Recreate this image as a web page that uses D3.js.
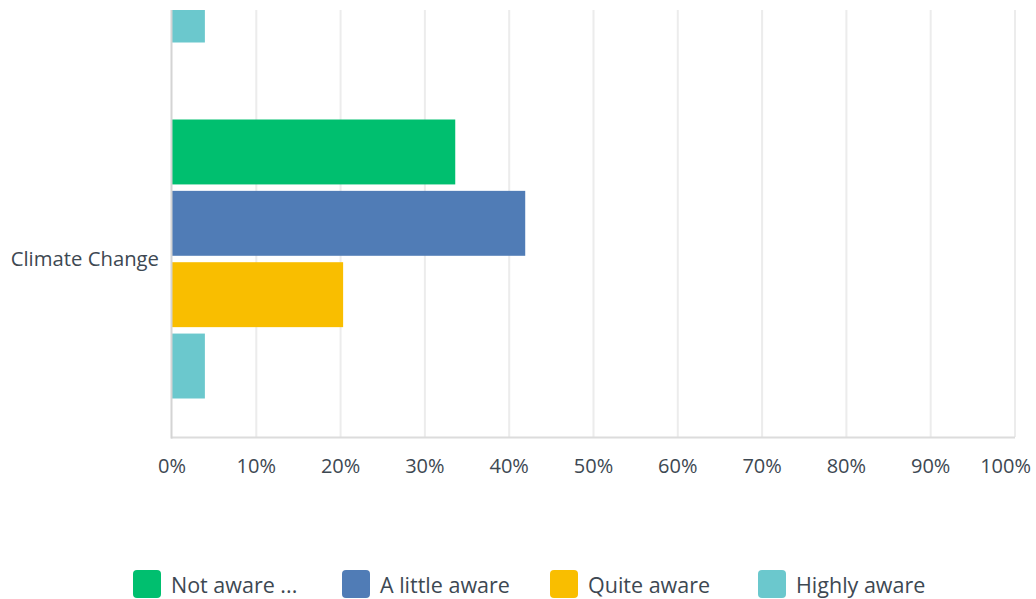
<!DOCTYPE html>
<html>
<head>
<meta charset="utf-8">
<script src="https://cdn.jsdelivr.net/npm/d3@7"></script>
<style>
  html, body { margin: 0; padding: 0; background: #fff; }
  text { font-family: "Open Sans", "Noto Sans", sans-serif; fill: #3d4852; }
</style>
</head>
<body>
<div id="chart"></div>
<script>
  "use strict";
  // data (the first row is scrolled out of view, only its last bar shows)
  var categories = ["", "Climate Change"];
  var series = ["Not aware ...", "A little aware", "Quite aware", "Highly aware"];
  var colors = ["#00bf6f", "#507cb6", "#f9be00", "#6bc8cd"];
  var values = [
    [null, null, null, 3.9],
    [33.6, 41.9, 20.3, 3.9]
  ];
  var ticks = [0, 10, 20, 30, 40, 50, 60, 70, 80, 90, 100];

  var width = 1036, height = 599;
  var plotLeft = 172, plotRight = 1015, plotTop = 10, plotBottom = 437;
  var bandH = 356;

  var svg = d3.select("#chart").append("svg")
              .attr("width", width).attr("height", height);

  var x = d3.scaleLinear().domain([0, 100]).range([plotLeft, plotRight]);
  var y = d3.scaleBand().domain(categories)
            .range([plotBottom - bandH * categories.length, plotBottom])
            .paddingInner(77 / 356).paddingOuter(38.5 / 356);
  var ySub = d3.scaleBand().domain(series).range([0, y.bandwidth()]).paddingInner(0.09);

  svg.append("clipPath").attr("id", "plot")
     .append("rect").attr("x", 0).attr("y", plotTop).attr("width", width).attr("height", plotBottom - plotTop + 2);

  var plot = svg.append("g").attr("clip-path", "url(#plot)");

  // grid
  plot.selectAll("line.grid").data(ticks.slice(1)).enter()
      .append("line")
      .attr("x1", function(d) { return x(d); }).attr("x2", function(d) { return x(d); })
      .attr("y1", plotTop).attr("y2", plotBottom)
      .attr("stroke", "#ececec").attr("stroke-width", 2);

  // bars
  var rows = plot.selectAll("g.row").data(categories).enter()
                 .append("g").attr("transform", function(d) { return "translate(0," + y(d) + ")"; });
  rows.selectAll("rect")
      .data(function(d, i) {
        return values[i].map(function(v, j) { return {s: series[j], v: v, c: colors[j]}; })
                        .filter(function(e) { return e.v != null; });
      })
      .enter().append("rect")
      .attr("x", x(0))
      .attr("y", function(d) { return ySub(d.s); })
      .attr("width", function(d) { return x(d.v) - x(0); })
      .attr("height", ySub.bandwidth())
      .attr("fill", function(d) { return d.c; });

  // axes lines
  svg.append("line").attr("x1", plotLeft - 1).attr("x2", plotRight).attr("y1", plotBottom + 0.5).attr("y2", plotBottom + 0.5)
     .attr("stroke", "#dcdcdc").attr("stroke-width", 2);
  svg.append("line").attr("x1", plotLeft - 0.5).attr("x2", plotLeft - 0.5).attr("y1", plotTop).attr("y2", plotBottom + 1.5)
     .attr("stroke", "#d4d4d4").attr("stroke-width", 2);

  // category labels
  svg.selectAll("text.cat").data(categories).enter()
     .append("text")
     .attr("x", 159)
     .attr("y", function(d) { return y(d) + y.bandwidth() / 2; })
     .attr("dy", "0.35em")
     .attr("text-anchor", "end")
     .attr("font-size", 20.3)
     .text(function(d) { return d; });

  // tick labels (the last one is pulled in so it stays on the page)
  svg.selectAll("text.tick").data(ticks).enter()
     .append("text")
     .attr("x", function(d, i) { return i === ticks.length - 1 ? 1031 : x(d); })
     .attr("y", 466)
     .attr("dy", "0.35em")
     .attr("text-anchor", function(d, i) { return i === ticks.length - 1 ? "end" : "middle"; })
     .attr("font-size", 20)
     .text(function(d) { return d + "%"; });

  // legend
  var legendX = [133, 342, 550, 758];
  var lg = svg.selectAll("g.legend").data(series).enter()
              .append("g").attr("transform", function(d, i) { return "translate(" + legendX[i] + ",570)"; });
  lg.append("rect").attr("width", 28).attr("height", 28).attr("rx", 4)
    .attr("fill", function(d, i) { return colors[i]; });
  lg.append("text").attr("x", 38).attr("y", 15).attr("dy", "0.35em")
    .attr("font-size", 21.5)
    .text(function(d) { return d; });
</script>
</body>
</html>
